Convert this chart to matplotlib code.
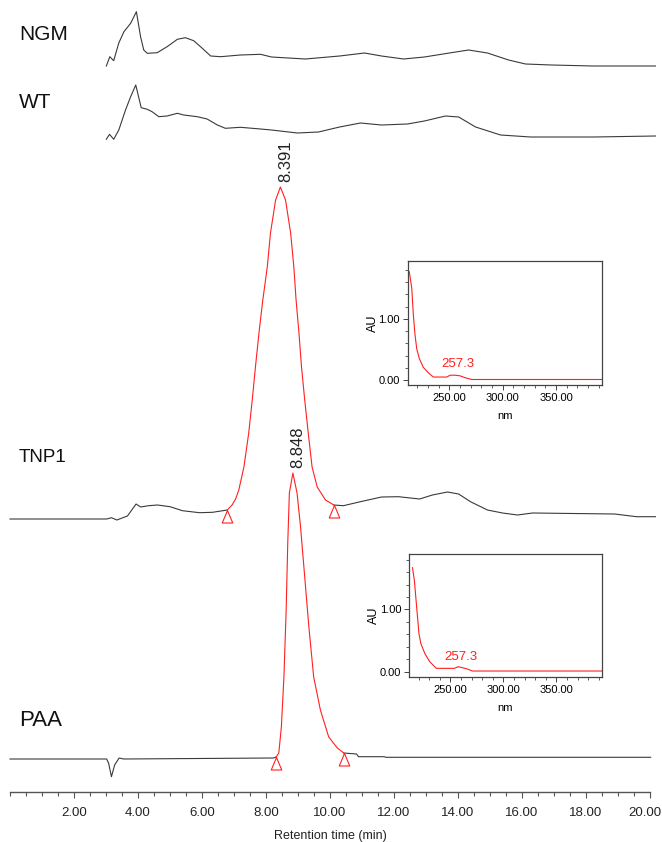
import numpy as np
import matplotlib
matplotlib.use("Agg")
import matplotlib.pyplot as plt
from matplotlib.ticker import MultipleLocator, FixedLocator
from matplotlib.transforms import ScaledTranslation

plt.rcParams['font.family'] = ['Liberation Sans', 'DejaVu Sans']

# ---------------- data (retention time in min, detector response in arbitrary units) -----------
ngm_t = [3.01, 3.12, 3.24, 3.40, 3.56, 3.77, 3.95, 4.08, 4.18, 4.29, 4.60, 4.91, 5.23, 5.48, 5.74,
         6.01, 6.27, 6.58, 7.20, 7.83, 8.17, 9.23, 10.30, 11.08, 11.61, 12.30, 12.95, 13.73, 14.33,
         14.92, 15.58, 16.11, 16.92, 18.23, 20.17]
ngm_y = [0, 9.3, 5.3, 23, 34.3, 42.7, 54.3, 29.3, 16, 12.7, 13.3, 19.3, 26.7, 28.3, 25.3,
         17.7, 10, 9.3, 11, 11.7, 9, 7, 10, 13, 10, 7, 9, 13, 16,
         13, 6, 2, 1, 0, 0]

wt_t = [3.01, 3.11, 3.24, 3.40, 3.61, 3.77, 3.93, 4.10, 4.29, 4.44, 4.65, 4.91, 5.23, 5.43, 5.85,
        6.16, 6.48, 6.73, 7.20, 7.83, 8.17, 8.98, 9.64, 10.30, 10.95, 11.61, 12.42, 12.95, 13.61,
        14.02, 14.55, 15.33, 16.27, 18.23, 20.17]
wt_y = [-2.3, 2.7, -2.3, 7, 27, 40.3, 52, 29.3, 27.7, 25.3, 20.3, 21, 23.7, 22, 20.3,
        18, 12, 8.7, 9.7, 8, 7, 4, 5, 10, 14, 12, 13, 16, 21,
        20, 10, 2, 0, 0, 1]

tnp1_t = [0.0, 3.02, 3.17, 3.34, 3.67, 3.94, 4.08, 4.33, 4.61, 5.00, 5.39, 5.92, 6.33, 6.79,
          6.94, 7.05, 7.15, 7.31, 7.46, 7.57, 7.67, 7.78, 7.90, 8.04, 8.14, 8.30, 8.45,
          8.61, 8.77, 8.87, 8.94, 9.03, 9.11, 9.21, 9.32, 9.44, 9.60, 9.86, 10.12,
          10.42, 10.95, 11.61, 12.14, 12.80, 13.20, 13.67, 14.02, 14.39, 14.92, 15.39,
          15.86, 16.33, 18.89, 19.58, 20.17]
tnp1_y = [0, 0, 1.3, -1, 3, 15, 12, 13.3, 14, 12.3, 8.3, 6.3, 6.7, 9,
          14, 20, 29, 52, 86, 119, 152, 186, 219, 252, 286, 319, 332,
          319, 286, 252, 219, 186, 152, 119, 86, 52, 32, 19, 14,
          13.3, 17.3, 22, 22.3, 20, 24, 27, 25, 17.3, 9, 6,
          4, 6, 5, 2.3, 2.3]
tnp1_peak_rt = 8.391
tnp1_peak_start, tnp1_peak_end = 6.79, 10.12

paa_t = [0.0, 3.02, 3.08, 3.17, 3.27, 3.41, 3.55, 8.23,
         8.32, 8.40, 8.48, 8.56, 8.63, 8.68, 8.73, 8.84, 8.97, 9.08, 9.21, 9.34, 9.49, 9.70,
         9.96, 10.23, 10.43,
         10.83, 10.89, 11.69, 11.75, 20.02]
paa_y = [0, 0, -4, -17.7, -6, 1, 0, 1,
         2, 6, 32, 82, 149, 216, 266, 286, 266, 232, 182, 132, 82, 49,
         22, 11, 6,
         5, 2.3, 2.3, 1.7, 1.7]
paa_peak_rt = 8.848
paa_peak_start, paa_peak_end = 8.32, 10.43

# UV spectra of the peaks (wavelength nm, absorbance AU)
spec1_nm = [212.5, 214.8, 216.3, 217.9, 219.5, 221.9, 225.6, 230.3, 235.0, 247.6, 250.7, 255.4,
            260.0, 264.7, 271.0, 394.0]
spec1_au = [1.77, 1.50, 1.06, 0.73, 0.51, 0.35, 0.21, 0.12, 0.05, 0.05, 0.08, 0.08,
            0.07, 0.04, 0.01, 0.01]
spec2_nm = [214.3, 216.1, 218.2, 220.4, 222.2, 226.0, 230.6, 236.8, 253.7, 257.4, 261.5, 266.1,
            270.7, 394.0]
spec2_au = [1.67, 1.46, 1.04, 0.61, 0.45, 0.29, 0.16, 0.054, 0.054, 0.08, 0.064, 0.043,
            0.011, 0.011]
lambda_max = 257.3

sample_names = ['NGM', 'WT', 'TNP1', 'PAA']
x_ticks = [2, 4, 6, 8, 10, 12, 14, 16, 18, 20]
x_tick_labels = ['2.00', '4.00', '6.00', '8.00', '10.00', '12.00', '14.00', '16.00', '18.00', '20.00']
x_label = 'Retention time (min)'

# ---------------- layout ----------------
W, H = 662, 842
fig = plt.figure(figsize=(W / 100, H / 100), dpi=100)
fig.patch.set_facecolor('white')

ax = fig.add_axes([10 / W, 50 / H, 640 / W, 792 / H])
ax.set_xlim(0, 20)
ax.set_ylim(0, 792)
ax.patch.set_alpha(0)
for s in ['top', 'right', 'left']:
    ax.spines[s].set_visible(False)
ax.spines['bottom'].set_color('#555555')
ax.spines['bottom'].set_linewidth(1.0)
ax.set_yticks([])
ax.xaxis.set_major_locator(FixedLocator(x_ticks))
ax.set_xticklabels(x_tick_labels, fontsize=9.5, color='#222222')
ax.xaxis.set_minor_locator(MultipleLocator(0.5))
ax.tick_params(axis='x', which='major', length=4.5, width=0.8, color='#555555', pad=6)
ax.tick_params(axis='x', which='minor', length=3, width=0.8, color='#555555')
ax.set_xlabel(x_label, fontsize=9, color='#222222', labelpad=8)
# keep the last tick label inside the picture
last = ax.get_xticklabels()[-1]
last.set_transform(last.get_transform() + ScaledTranslation(-5 / 100, 0, fig.dpi_scale_trans))

BLACK = '#3a3a3a'
RED = '#ff2020'
LW = 0.8

offsets = {'NGM': 726, 'WT': 655, 'TNP1': 273, 'PAA': 33}

ax.plot(ngm_t, np.array(ngm_y) + offsets['NGM'], color=BLACK, lw=LW, clip_on=False)
ax.plot(wt_t, np.array(wt_y) + offsets['WT'], color=BLACK, lw=LW, clip_on=False)

tri = matplotlib.path.Path([(0, 0), (-0.42, -1), (0.42, -1), (0, 0)],
                           [1, 2, 2, 79])


def draw_peak_trace(t, y, off, start, end, rt):
    t = np.array(t)
    y = np.array(y) + off
    pre = t <= start
    post = t >= end
    mid = (t >= start) & (t <= end)
    ax.plot(t[pre], y[pre], color=BLACK, lw=LW, clip_on=False)
    ax.plot(t[post], y[post], color=BLACK, lw=LW, clip_on=False)
    ax.plot(t[mid], y[mid], color=RED, lw=LW, clip_on=False)
    ys = np.interp([start, end], t, y)
    ax.plot([start, end], ys, ls='none', marker=tri, markersize=18,
            markerfacecolor='none', markeredgecolor=RED, markeredgewidth=0.8)
    apex = np.argmax(y)
    ax.annotate(f'{rt:.3f}', xy=(t[apex], y[apex]), xytext=(3.5, 3.5),
                textcoords='offset points', rotation=90, ha='center', va='bottom',
                fontsize=12, color='#222222')


draw_peak_trace(tnp1_t, tnp1_y, offsets['TNP1'], tnp1_peak_start, tnp1_peak_end, tnp1_peak_rt)
draw_peak_trace(paa_t, paa_y, offsets['PAA'], paa_peak_start, paa_peak_end, paa_peak_rt)

# sample labels (pixel rows from top)
label_rows = {'NGM': 34, 'WT': 102, 'TNP1': 457, 'PAA': 720}
label_sizes = {'NGM': 15, 'WT': 15, 'TNP1': 13.5, 'PAA': 16}
for name in sample_names:
    fig.text(19 / W, 1 - label_rows[name] / H, name, fontsize=label_sizes[name],
             ha='left', va='center', color='#111111')


def draw_inset(rect, nm, au, ylim, lab_xy):
    ia = fig.add_axes(rect)
    ia.plot(nm, au, color=RED, lw=0.8)
    ia.set_xlim(211, 393)
    ia.set_ylim(*ylim)
    for s in ia.spines.values():
        s.set_color('#444444')
        s.set_linewidth(0.9)
    ia.xaxis.set_major_locator(FixedLocator([250, 300, 350]))
    ia.xaxis.set_minor_locator(MultipleLocator(10))
    ia.yaxis.set_major_locator(FixedLocator([0, 1]))
    ia.yaxis.set_minor_locator(MultipleLocator(0.2))
    ia.set_xticklabels(['250.00', '300.00', '350.00'], fontsize=8)
    ia.set_yticklabels(['0.00', '1.00'], fontsize=8)
    ia.tick_params(which='major', length=3.5, width=0.7, color='#444444', pad=2)
    ia.tick_params(which='minor', length=2, width=0.6, color='#444444')
    ia.set_xlabel('nm', fontsize=8, labelpad=6)
    ia.set_ylabel('AU', fontsize=9, labelpad=0)
    ia.text(lab_xy[0], lab_xy[1], f'{lambda_max}', color=RED, fontsize=9.5,
            ha='center', va='center')
    return ia


draw_inset([407.7 / W, 1 - 385 / H, 194.3 / W, 124.3 / H], spec1_nm, spec1_au,
           (-0.08, 1.95), (258.4, 0.26))
draw_inset([409 / W, 1 - 677 / H, 193 / W, 123 / H], spec2_nm, spec2_au,
           (-0.085, 1.89), (259.9, 0.23))

fig.savefig('out.png', dpi=100, facecolor='white')
